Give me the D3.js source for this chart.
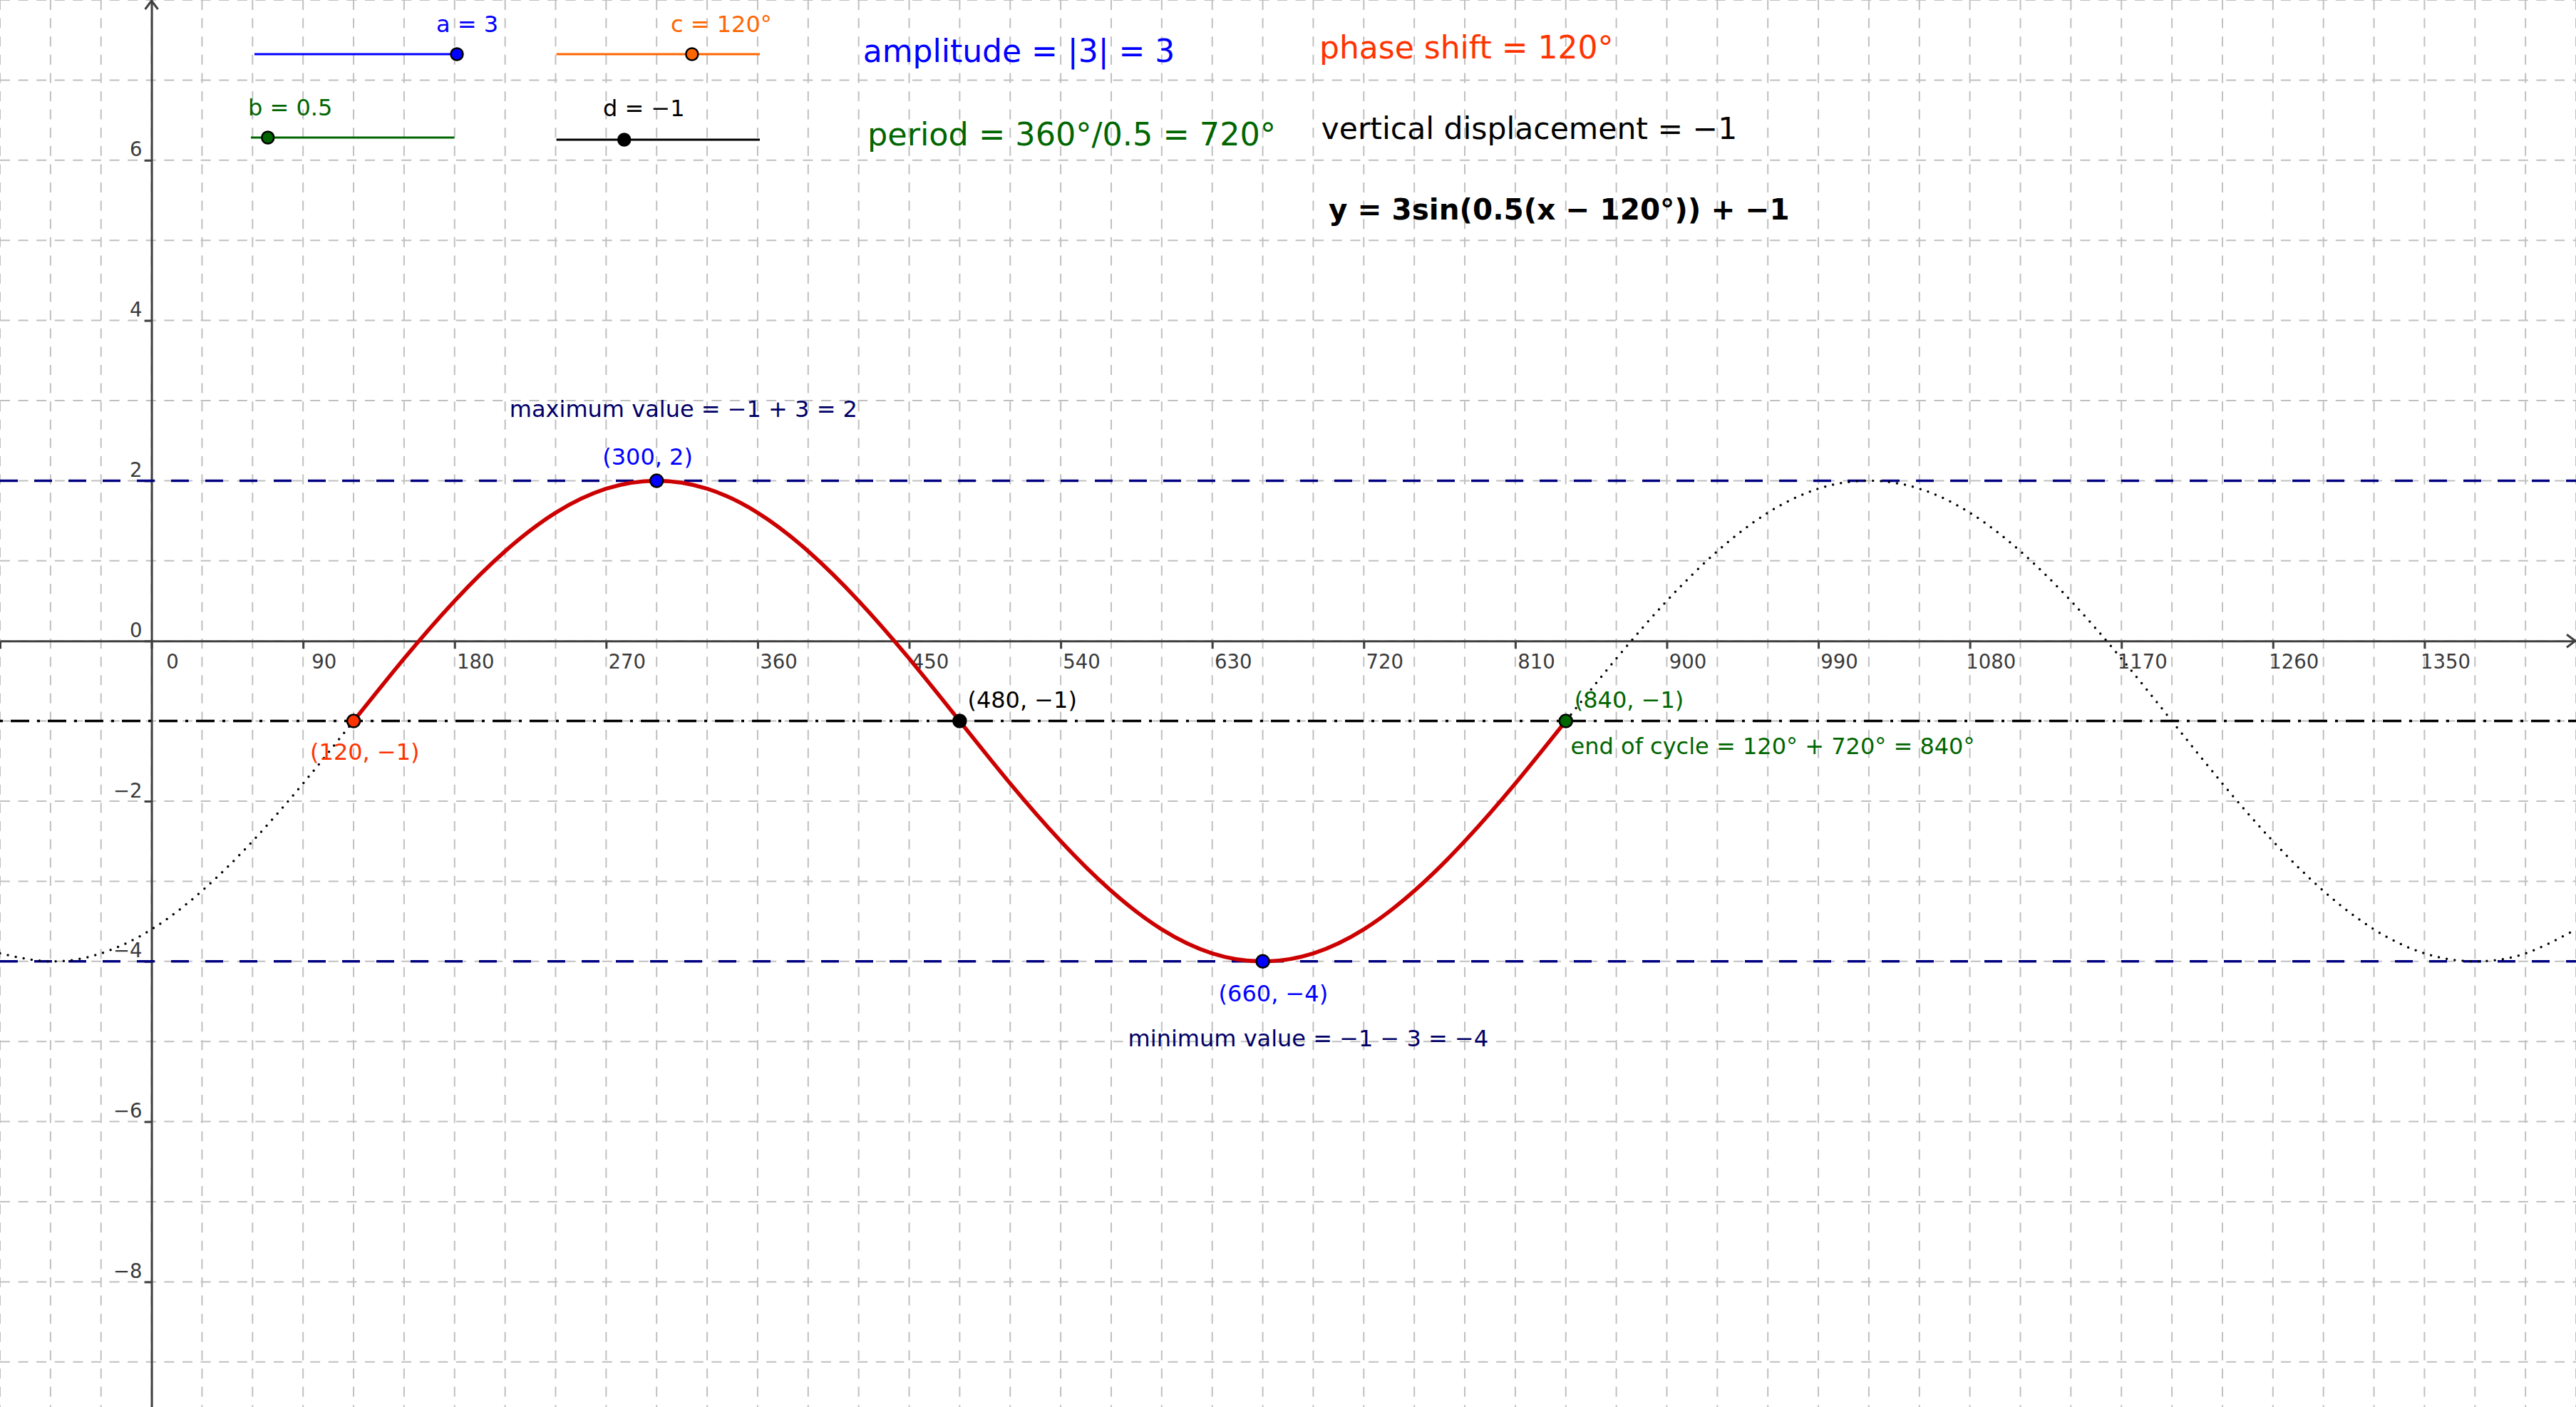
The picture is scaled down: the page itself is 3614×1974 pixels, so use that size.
<!DOCTYPE html>
<html>
<head>
<meta charset="utf-8">
<script src="https://cdnjs.cloudflare.com/ajax/libs/d3/7.8.5/d3.min.js"></script>
<style>
  body { margin: 0; background: #ffffff; }
  svg { display: block; font-family: "DejaVu Sans", sans-serif; }
</style>
</head>
<body>
<div id="graph"></div>
<script>
// slider parameters of y = a sin(b(x - c)) + d
const sliderNames = ["a", "b", "c", "d"];
const sliderValues = [3, 0.5, 120, -1];
const sliderMin = [-3, 0, 0, -3];
const sliderMax = [3, 6, 180, 3];
const sliderLabels = ["a = 3", "b = 0.5", "c = 120°", "d = −1"];

// curve values every 30°
const curveX = [-90, -60, -30, 0, 30, 60, 90, 120, 150, 180, 210, 240, 270, 300, 330, 360,
                390, 420, 450, 480, 510, 540, 570, 600, 630, 660, 690, 720, 750, 780, 810, 840,
                870, 900, 930, 960, 990, 1020, 1050, 1080, 1110, 1140, 1170, 1200, 1230, 1260,
                1290, 1320, 1350, 1380, 1410, 1440];
const curveY = [-3.90, -4.00, -3.90, -3.60, -3.12, -2.50, -1.78, -1.00, -0.22, 0.50, 1.12, 1.60, 1.90, 2.00, 1.90, 1.60,
                1.12, 0.50, -0.22, -1.00, -1.78, -2.50, -3.12, -3.60, -3.90, -4.00, -3.90, -3.60, -3.12, -2.50, -1.78, -1.00,
                -0.22, 0.50, 1.12, 1.60, 1.90, 2.00, 1.90, 1.60, 1.12, 0.50, -0.22, -1.00, -1.78, -2.50,
                -3.12, -3.60, -3.90, -4.00, -3.90, -3.60];
const cycleStart = 120, cycleEnd = 840;

// key points of the cycle
const pointX = [120, 300, 480, 660, 840];
const pointY = [-1, 2, -1, -4, -1];
const pointLabels = ["(120, −1)", "(300, 2)", "(480, −1)", "(660, −4)", "(840, −1)"];

// reference lines
const maxValue = 2, minValue = -4, midValue = -1;

// tick labels
const xTicks = [0, 90, 180, 270, 360, 450, 540, 630, 720, 810, 900, 990, 1080, 1170, 1260, 1350];
const yTicks = [-8, -6, -4, -2, 0, 2, 4, 6];

// texts
const infoTexts = ["amplitude = |3| = 3", "phase shift = 120°", "period = 360°/0.5 = 720°",
                   "vertical displacement = −1", "y = 3sin(0.5(x − 120°)) + −1"];
const noteTexts = ["maximum value = −1 + 3 = 2", "minimum value = −1 − 3 = −4",
                   "end of cycle = 120° + 720° = 840°"];

(function(){

    const width = 3614, height = 1974;

    let svg = d3.select("#graph")
        .append("svg")
        .attr("width", width)
        .attr("height", height);

    // Scales
    let x = d3.scaleLinear().domain([-90, 1440]).range([0, width]);
    let y = d3.scaleLinear().domain([8, -9.562]).range([0, height]);

    // Grid
    let grid = svg.append("g")
        .attr("stroke", "#c0c0c0")
        .attr("stroke-width", 2)
        .attr("stroke-dasharray", "14,11.6");
    grid.selectAll(".vgrid")
        .data(d3.range(-90, 1441, 30))
        .enter().append("line")
        .attr("x1", d => x(d)).attr("x2", d => x(d))
        .attr("y1", 0).attr("y2", height);
    grid.selectAll(".hgrid")
        .data(d3.range(-9, 9, 1))
        .enter().append("line")
        .attr("x1", 0).attr("x2", width)
        .attr("y1", d => y(d)).attr("y2", d => y(d));

    const axisColor = "#404040";

    // x-axis
    let gx = svg.append("g")
        .attr("transform", `translate(0, ${y(0)})`)
        .call(d3.axisBottom(x)
            .tickValues([-90].concat(xTicks))
            .tickSize(11)
            .tickSizeOuter(0)
            .tickFormat(d => d === -90 ? "" : d3.format("d")(d)));
    gx.select(".domain").attr("stroke", axisColor).attr("stroke-width", 3);
    gx.selectAll(".tick line").attr("stroke", axisColor).attr("stroke-width", 3);
    gx.selectAll(".tick text")
        .attr("x", 29).attr("y", 39).attr("dy", null)
        .attr("font-size", 27.5).attr("font-family", "DejaVu Sans")
        .attr("fill", "#3a3a3a");

    // y-axis
    let gy = svg.append("g")
        .attr("transform", `translate(${x(0)}, 0)`)
        .call(d3.axisLeft(y)
            .tickValues(yTicks)
            .tickSize(10)
            .tickSizeOuter(0));
    gy.select(".domain").attr("stroke", axisColor).attr("stroke-width", 3);
    gy.selectAll(".tick line").attr("stroke", axisColor).attr("stroke-width", 3);
    gy.selectAll(".tick text")
        .attr("x", -13).attr("y", -6).attr("dy", null)
        .attr("font-size", 27.5).attr("font-family", "DejaVu Sans")
        .attr("fill", "#3a3a3a");

    // Axis arrows
    svg.append("path")
        .attr("d", `M${width - 13},${y(0) - 9}L${width - 1},${y(0)}L${width - 13},${y(0) + 9}`)
        .attr("fill", "none").attr("stroke", axisColor).attr("stroke-width", 3);
    svg.append("path")
        .attr("d", `M${x(0) - 9},13L${x(0)},1L${x(0) + 9},13`)
        .attr("fill", "none").attr("stroke", axisColor).attr("stroke-width", 3);

    // Max / min lines
    svg.selectAll(".extreme")
        .data([maxValue, minValue])
        .enter().append("line")
        .attr("x1", 0).attr("x2", width)
        .attr("y1", d => y(d)).attr("y2", d => y(d))
        .attr("stroke", "#000080")
        .attr("stroke-width", 3.5)
        .attr("stroke-dasharray", "25,23");

    // Vertical displacement line
    svg.append("line")
        .attr("x1", 0).attr("x2", width)
        .attr("y1", y(midValue)).attr("y2", y(midValue))
        .attr("stroke", "#000000")
        .attr("stroke-width", 3.5)
        .attr("stroke-dasharray", "4,11,26,11");

    // Curves
    let line = d3.line()
        .x(i => x(curveX[i]))
        .y(i => y(curveY[i]))
        .curve(d3.curveNatural);

    svg.append("path")
        .attr("d", line(d3.range(curveX.length)))
        .attr("fill", "none")
        .attr("stroke", "#000000")
        .attr("stroke-width", 3.5)
        .attr("stroke-linecap", "round")
        .attr("stroke-dasharray", "0,11.3");

    let cycle = d3.range(curveX.length).filter(i => curveX[i] >= cycleStart && curveX[i] <= cycleEnd);
    svg.append("path")
        .attr("d", line(cycle))
        .attr("fill", "none")
        .attr("stroke", "#cc0000")
        .attr("stroke-width", 5.5);

    // Sliders
    const sliderLayout = [
        {x1: 357, x2: 641, y: 76, lx: 612, ly: 45, color: "#0000ff"},
        {x1: 352, x2: 637.5, y: 193, lx: 348, ly: 162, color: "#006600"},
        {x1: 780.6, x2: 1066, y: 76, lx: 941, ly: 45, color: "#ff6600"},
        {x1: 780.6, x2: 1066, y: 196, lx: 846, ly: 163, color: "#000000"}
    ];
    sliderNames.forEach(function(name, i) {
        let L = sliderLayout[i];
        let s = d3.scaleLinear().domain([sliderMin[i], sliderMax[i]]).range([L.x1, L.x2]);
        let g = svg.append("g").attr("class", "slider-" + name);
        g.append("line")
            .attr("x1", s(sliderMin[i])).attr("x2", s(sliderMax[i]))
            .attr("y1", L.y).attr("y2", L.y)
            .attr("stroke", L.color).attr("stroke-width", 3);
        g.append("circle")
            .attr("cx", s(sliderValues[i])).attr("cy", L.y)
            .attr("r", 8.5)
            .attr("fill", L.color)
            .attr("stroke", "#000000").attr("stroke-width", 2.5);
        g.append("text")
            .attr("x", L.lx).attr("y", L.ly)
            .attr("font-size", 32)
            .attr("fill", L.color)
            .text(sliderLabels[i]);
    });

    // Key points
    const pointColors = ["#ff3300", "#0000ff", "#000000", "#0000ff", "#006600"];
    const labelOffsets = [[-61, 54], [-76, -22], [11, -19], [-62, 56], [12, -19]];
    svg.selectAll(".keypoint")
        .data(d3.range(pointX.length))
        .enter().append("circle")
        .attr("cx", i => x(pointX[i]))
        .attr("cy", i => y(pointY[i]))
        .attr("r", 9)
        .attr("fill", i => pointColors[i])
        .attr("stroke", "#000000")
        .attr("stroke-width", 2.5);
    svg.selectAll(".keylabel")
        .data(d3.range(pointX.length))
        .enter().append("text")
        .attr("x", i => x(pointX[i]) + labelOffsets[i][0])
        .attr("y", i => y(pointY[i]) + labelOffsets[i][1])
        .attr("font-size", 32)
        .attr("fill", i => pointColors[i])
        .text(i => pointLabels[i]);

    // Notes near the curve
    const notePos = [[714.8, 585, "#000066"], [1582.6, 1468, "#000066"], [2203.6, 1058, "#006600"]];
    svg.selectAll(".note")
        .data(d3.range(noteTexts.length))
        .enter().append("text")
        .attr("x", i => notePos[i][0])
        .attr("y", i => notePos[i][1])
        .attr("font-size", 32)
        .attr("fill", i => notePos[i][2])
        .text(i => noteTexts[i]);

    // Info block at the top
    const infoPos = [[1210.7, 87, 44, "#0000ff", "normal"],
                     [1851, 82, 44, "#ff3300", "normal"],
                     [1217, 204, 44.5, "#006600", "normal"],
                     [1853.6, 195, 42.5, "#000000", "normal"],
                     [1864, 308, 40.5, "#000000", "bold"]];
    svg.selectAll(".info")
        .data(d3.range(infoTexts.length))
        .enter().append("text")
        .attr("x", i => infoPos[i][0])
        .attr("y", i => infoPos[i][1])
        .attr("font-size", i => infoPos[i][2])
        .attr("fill", i => infoPos[i][3])
        .attr("font-weight", i => infoPos[i][4])
        .text(i => infoTexts[i]);

})();
</script>
</body>
</html>
